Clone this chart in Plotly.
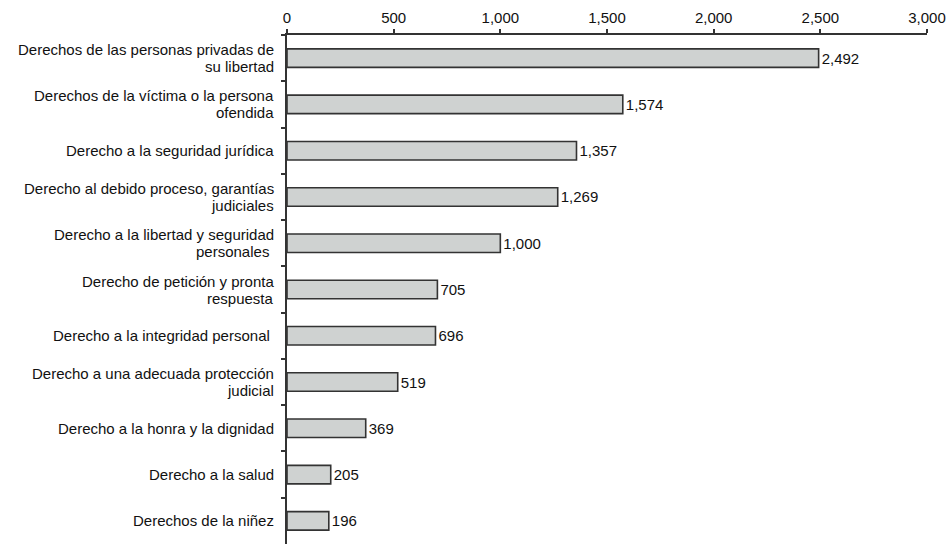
import plotly.graph_objects as go

categories = [
    "Derechos de las personas privadas de<br>su libertad",
    "Derechos de la víctima o la persona<br>ofendida",
    "Derecho a la seguridad jurídica",
    "Derecho al debido proceso, garantías<br>judiciales",
    "Derecho a la libertad y seguridad<br>personales\u00a0",
    "Derecho de petición y pronta<br>respuesta",
    "Derecho a la integridad personal\u00a0",
    "Derecho a una adecuada protección<br>judicial",
    "Derecho a la honra y la dignidad",
    "Derecho a la salud",
    "Derechos de la niñez",
]
values = [2492, 1574, 1357, 1269, 1000, 705, 696, 519, 369, 205, 196]
x_ticks = [0, 500, 1000, 1500, 2000, 2500, 3000]
x_tick_labels = ["0", "500", "1,000", "1,500", "2,000", "2,500", "3,000"]

font_family = "Liberation Sans, Arial, Helvetica, sans-serif"
FS = 15
LINE_GAP = 17

fig = go.Figure(
    go.Bar(
        x=values,
        y=categories,
        orientation="h",
        marker=dict(color="#cfd2d1", line=dict(color="#333333", width=1.6)),
        width=0.4,
        text=[f"{v:,}" for v in values],
        textposition="outside",
        textfont=dict(family=font_family, size=FS, color="#111111"),
        cliponaxis=False,
        hoverinfo="skip",
    )
)

# category labels drawn as annotations so the two-line spacing can be tight
annotations = []
for cat in categories:
    lines = cat.split("<br>")
    n = len(lines)
    for i, line in enumerate(lines):
        shift = (n - 1) / 2 * LINE_GAP - i * LINE_GAP
        annotations.append(
            dict(
                x=0, xref="paper", xshift=-11, xanchor="right",
                y=cat, yref="y", yshift=shift, yanchor="middle",
                text=line, showarrow=False,
                font=dict(family=font_family, size=FS, color="#111111"),
            )
        )

fig.update_layout(
    width=951,
    height=544,
    margin=dict(l=287, r=24, t=35, b=0),
    paper_bgcolor="white",
    plot_bgcolor="white",
    font=dict(family=font_family, size=FS, color="#111111"),
    showlegend=False,
    annotations=annotations,
    xaxis=dict(
        side="top",
        range=[0, 3000],
        tickvals=x_ticks,
        ticktext=x_tick_labels,
        ticks="outside",
        ticklen=4,
        tickwidth=1.5,
        tickcolor="#333333",
        showline=True,
        linecolor="#333333",
        linewidth=1.5,
        showgrid=False,
        zeroline=False,
        automargin=False,
        tickfont=dict(size=FS),
    ),
    yaxis=dict(
        type="category",
        autorange="reversed",
        tickson="boundaries",
        ticks="outside",
        ticklen=4,
        tickwidth=1.5,
        tickcolor="#333333",
        showline=True,
        linecolor="#333333",
        linewidth=1.5,
        showgrid=False,
        zeroline=False,
        showticklabels=False,
        automargin=False,
    ),
)

fig.write_html(
    "out.html",
    config={"displayModeBar": False},
    post_script="document.body.style.margin='0';document.body.style.padding='0';",
)
